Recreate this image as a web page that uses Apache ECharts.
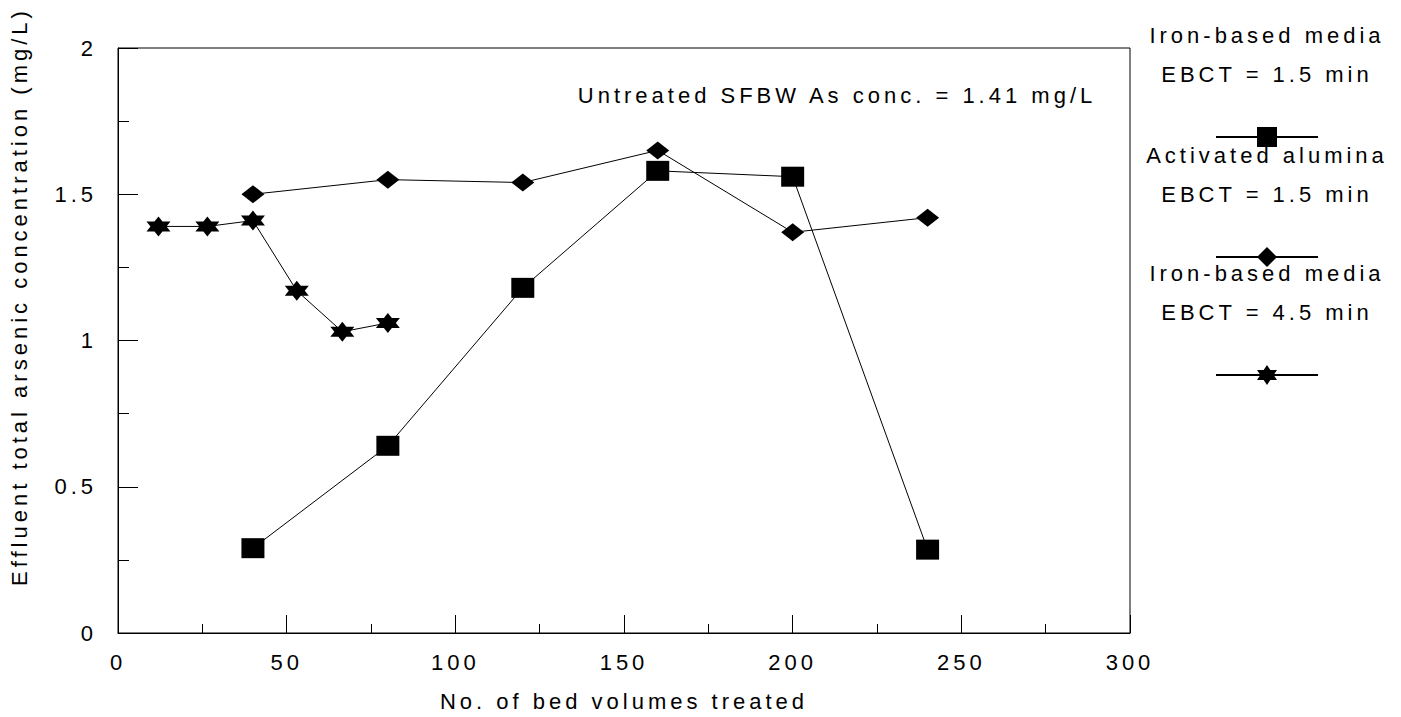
<!DOCTYPE html>
<html>
<head>
<meta charset="utf-8">
<script src="https://cdn.jsdelivr.net/npm/echarts@6/dist/echarts.min.js"></script>
<style>
  html, body { margin: 0; padding: 0; background: #fff; }
  #chart { width: 1401px; height: 717px; }
  /* the original uses widely spaced lettering */
  #chart svg text { letter-spacing: 4px; }
</style>
</head>
<body>
<div id="chart"></div>
<script>
// Iron-based media, EBCT = 1.5 min
const ironShortX = [40, 80, 120, 160, 200, 240];
const ironShortY = [0.29, 0.64, 1.18, 1.58, 1.56, 0.285];
// Activated alumina, EBCT = 1.5 min
const aluminaX = [40, 80, 120, 160, 200, 240];
const aluminaY = [1.50, 1.55, 1.54, 1.65, 1.37, 1.42];
// Iron-based media, EBCT = 4.5 min
const ironLongX = [12, 26.5, 40, 53, 66.5, 80];
const ironLongY = [1.39, 1.39, 1.41, 1.17, 1.03, 1.06];

const seriesNames = ['Iron-based media 1.5', 'Activated alumina 1.5', 'Iron-based media 4.5'];
const legendLines = [
  ['Iron-based media', 'EBCT = 1.5 min'],
  ['Activated alumina', 'EBCT = 1.5 min'],
  ['Iron-based media', 'EBCT = 4.5 min']
];
const xTicks = [0, 50, 100, 150, 200, 250, 300];
const yTicks = [0, 0.5, 1, 1.5, 2];

const font = 'Liberation Sans, Arial, sans-serif';
const fs = 22;
const hexagram = 'path://M0,-1L0.2887,-0.5L0.866,-0.5L0.577,0L0.866,0.5L0.2887,0.5L0,1L-0.2887,0.5L-0.866,0.5L-0.577,0L-0.866,-0.5L-0.2887,-0.5Z';

function pairs(xs, ys) {
  return xs.map((x, i) => [x, ys[i]]);
}

const chart = echarts.init(document.getElementById('chart'), null, { renderer: 'svg' });

const symbols = ['rect', 'diamond', hexagram];
const sizes = [[23, 20], [23, 18], [24, 20]];
const dataSets = [pairs(ironShortX, ironShortY), pairs(aluminaX, aluminaY), pairs(ironLongX, ironLongY)];

const series = seriesNames.map((name, i) => ({
  name: name,
  type: 'line',
  data: dataSets[i],
  symbol: symbols[i],
  symbolSize: sizes[i],
  showSymbol: true,
  itemStyle: { color: '#000' },
  lineStyle: { color: '#000', width: 1 },
  animation: false,
  z: 3 - i
}));

// one legend per entry, its two text lines drawn above it
const legendMid = [137, 257, 375];
const legends = seriesNames.map((name, i) => ({
  data: [name],
  left: 1215,
  top: legendMid[i] - 12.5,
  padding: 0,
  itemWidth: 102,
  itemHeight: 25,
  itemGap: 0,
  formatter: () => '',
  selectedMode: false,
  textStyle: { fontSize: 1 }
}));

const graphics = [];
legendLines.forEach((lines, i) => {
  lines.forEach((t, j) => {
    graphics.push({
      type: 'text',
      x: 1267,
      y: legendMid[i] - 102 + j * 39,
      style: {
        text: t,
        fill: '#000',
        font: fs + 'px ' + font,
        textAlign: 'center',
        textVerticalAlign: 'middle'
      }
    });
  });
});
graphics.push({
  type: 'text',
  x: 837,
  y: 95,
  style: {
    text: 'Untreated SFBW As conc. = 1.41 mg/L',
    fill: '#000',
    font: fs + 'px ' + font,
    textAlign: 'center',
    textVerticalAlign: 'middle'
  }
});

chart.setOption({
  backgroundColor: '#fff',
  animation: false,
  grid: {
    left: 118, right: 271, top: 48, bottom: 83,
    show: true, borderColor: '#000', borderWidth: 1
  },
  legend: legends,
  graphic: graphics,
  xAxis: {
    type: 'value',
    min: xTicks[0],
    max: xTicks[xTicks.length - 1],
    interval: 50,
    name: 'No. of bed volumes treated',
    nameLocation: 'middle',
    nameGap: 57,
    nameTextStyle: { color: '#000', fontSize: fs, fontFamily: font },
    axisLine: { lineStyle: { color: '#000', width: 1 } },
    axisTick: { inside: true, length: 18, lineStyle: { color: '#000' } },
    minorTick: { show: true, splitNumber: 2, length: 9, lineStyle: { color: '#000' } },
    splitLine: { show: false },
    axisLabel: { color: '#000', fontSize: fs, fontFamily: font, margin: 18 }
  },
  yAxis: {
    type: 'value',
    min: yTicks[0],
    max: yTicks[yTicks.length - 1],
    interval: 0.5,
    name: 'Effluent total arsenic concentration (mg/L)',
    nameLocation: 'middle',
    nameGap: 88,
    nameTextStyle: { color: '#000', fontSize: fs, fontFamily: font, padding: [0, 0, 0, 88] },
    axisLine: { lineStyle: { color: '#000', width: 1 } },
    axisTick: { inside: true, length: 20, lineStyle: { color: '#000' } },
    minorTick: { show: true, splitNumber: 2, length: 11, lineStyle: { color: '#000' } },
    splitLine: { show: false },
    axisLabel: { color: '#000', fontSize: fs, fontFamily: font, margin: 21 }
  },
  series: series
});
</script>
</body>
</html>
